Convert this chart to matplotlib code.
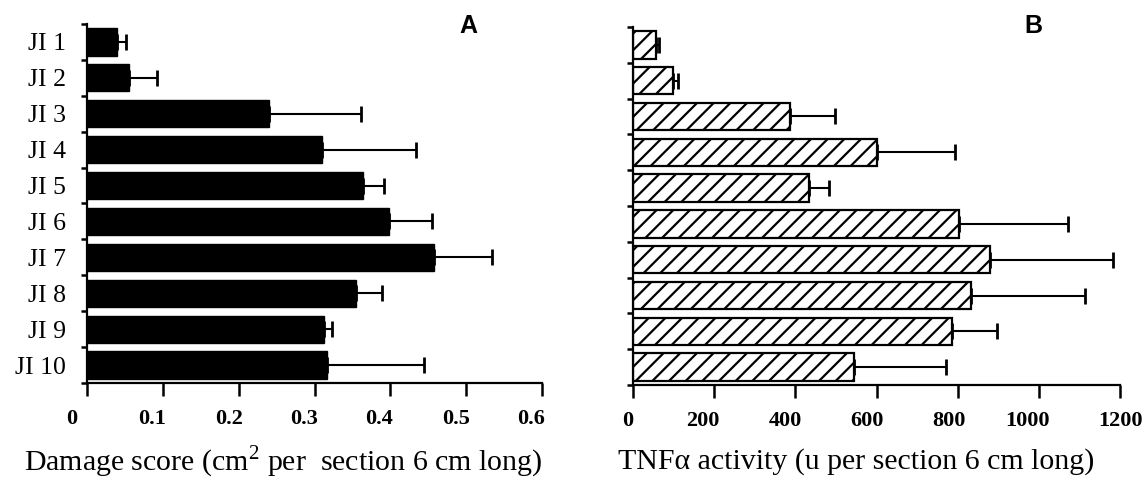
import matplotlib
matplotlib.use("Agg")
import matplotlib.pyplot as plt
import matplotlib.transforms as mtransforms
import numpy as np

categories = ['JI 1', 'JI 2', 'JI 3', 'JI 4', 'JI 5', 'JI 6', 'JI 7', 'JI 8', 'JI 9', 'JI 10']
damage = [0.040, 0.055, 0.240, 0.310, 0.364, 0.398, 0.457, 0.355, 0.313, 0.317]
damage_err = [0.011, 0.037, 0.121, 0.124, 0.027, 0.057, 0.077, 0.034, 0.010, 0.128]
tnf = [57, 98, 388, 601, 433, 803, 880, 832, 787, 545]
tnf_err = [7, 12, 109, 193, 51, 270, 302, 282, 111, 226]
damage_ticks = [0, 0.1, 0.2, 0.3, 0.4, 0.5, 0.6]
damage_ticklabels = ['0', '0.1', '0.2', '0.3', '0.4', '0.5', '0.6']
tnf_ticks = [0, 200, 400, 600, 800, 1000, 1200]
tnf_ticklabels = ['0', '200', '400', '600', '800', '1000', '1200']

# horizontal pixel shifts of the tick labels as printed in the scan
left_label_shift = [-15, -11, -10, -10, -11, -10, -11]
right_label_shift = [-5, -11, -10, -10, -9, -11, 0]

plt.rcParams['font.family'] = ['Liberation Serif', 'DejaVu Serif']
plt.rcParams['mathtext.fontset'] = 'custom'
plt.rcParams['mathtext.rm'] = 'Liberation Serif'
plt.rcParams['hatch.linewidth'] = 1.6

W, H = 1144, 483
fig = plt.figure(figsize=(W / 100, H / 100), dpi=100)
axL = fig.add_axes([87 / W, 1 - 383 / H, (542 - 87) / W, (383 - 24) / H])
axR = fig.add_axes([633 / W, 1 - 385 / H, (1120 - 633) / W, (385 - 27) / H])

y = np.arange(len(categories))
bh = 0.76

def style(ax, xmax, ticks, labels, shifts):
    for s in ['top', 'right']:
        ax.spines[s].set_visible(False)
    for s in ['left', 'bottom']:
        ax.spines[s].set_linewidth(1.6)
    ax.set_xlim(0, xmax)
    ax.set_ylim(len(categories) - 0.5, -0.5)
    ax.set_xticks(ticks)
    ax.set_xticklabels(labels, fontsize=16, fontweight='bold')
    ax.tick_params(axis='x', direction='out', length=9, width=1.8, pad=10)
    ax.set_yticks(np.arange(-0.5, len(categories), 1.0), minor=True)
    ax.tick_params(axis='y', which='minor', direction='out', length=4, width=1.8)
    for lab, dx in zip(ax.get_xticklabels(), shifts):
        offset = mtransforms.ScaledTranslation(dx / 100, 0, fig.dpi_scale_trans)
        lab.set_transform(lab.get_transform() + offset)

# Panel A
axL.barh(y, damage, height=bh, color='black', edgecolor='black', zorder=2)
axL.errorbar(damage, y, xerr=[np.zeros(len(damage)), damage_err], fmt='none',
             ecolor='black', elinewidth=1.5, capsize=5.5, capthick=2, zorder=3)
style(axL, 0.6, damage_ticks, damage_ticklabels, left_label_shift)
axL.set_yticks(y)
axL.set_yticklabels(categories, fontsize=18.5)
axL.tick_params(axis='y', which='major', length=0, pad=15)

# Panel B
axR.barh(y, tnf, height=bh, color='white', edgecolor='black', linewidth=1.6,
         hatch='//', zorder=2)
axR.errorbar(tnf, y, xerr=[np.zeros(len(tnf)), tnf_err], fmt='none',
             ecolor='black', elinewidth=1.5, capsize=5.5, capthick=2, zorder=3)
style(axR, 1200, tnf_ticks, tnf_ticklabels, right_label_shift)
axR.set_yticks([])

# Panel letters
fig.text(468 / W, 1 - 26 / H, 'A', fontsize=18, fontweight='bold',
         family='Liberation Sans', ha='center', va='center')
fig.text(1033 / W, 1 - 26 / H, 'B', fontsize=18, fontweight='bold',
         family='Liberation Sans', ha='center', va='center')

# Axis titles
fig.text(283 / W, 1 - 462 / H, r'Damage score (cm$^{\mathrm{2}}$ per  section 6 cm long)',
         fontsize=21.5, ha='center', va='center')
fig.text(856 / W, 1 - 462 / H, 'TNFα activity (u per section 6 cm long)',
         fontsize=21.5, ha='center', va='center')

fig.savefig('out.png', dpi=100)
